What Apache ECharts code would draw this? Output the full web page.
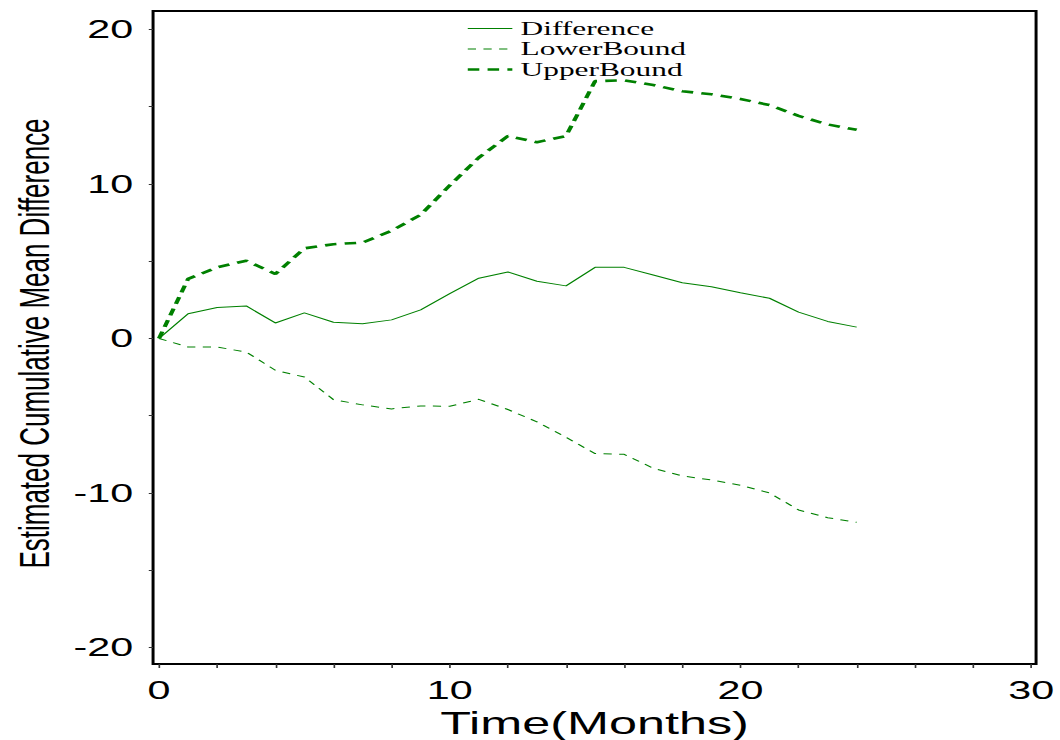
<!DOCTYPE html>
<html>
<head>
<meta charset="utf-8">
<script src="https://cdn.jsdelivr.net/npm/echarts@6/dist/echarts.min.js"></script>
<style>
html, body { margin: 0; padding: 0; background: #fff; overflow: hidden; }
/* the reference is drawn wide: the chart is laid out narrower and stretched */
#chart { width: 642px; height: 740px; transform: scaleX(1.6511); transform-origin: 0 0; }
</style>
</head>
<body>
<div id="chart"></div>
<script>
var months = [0, 1, 2, 3, 4, 5, 6, 7, 8, 9, 10, 11, 12, 13, 14, 15, 16, 17, 18, 19, 20, 21, 22, 23, 24];
var difference = [0, 1.6, 2.0, 2.1, 1.0, 1.65, 1.05, 0.95, 1.2, 1.85, 2.9, 3.9, 4.3, 3.7, 3.4, 4.6, 4.6, 4.1, 3.6, 3.35, 2.95, 2.6, 1.7, 1.1, 0.73];
var lowerBound = [0, -0.56, -0.56, -0.88, -2.06, -2.5, -3.96, -4.3, -4.56, -4.37, -4.39, -3.94, -4.6, -5.4, -6.4, -7.45, -7.5, -8.4, -8.9, -9.16, -9.5, -10.0, -11.1, -11.6, -11.9];
var upperBound = [0, 3.85, 4.6, 5.03, 4.17, 5.83, 6.1, 6.2, 6.97, 8.0, 9.9, 11.7, 13.1, 12.7, 13.1, 16.65, 16.7, 16.4, 16.0, 15.8, 15.5, 15.1, 14.4, 13.85, 13.5];
var xLabels = [0, 10, 20, 30];
var xTicks = [0, 2, 4, 6, 8, 10, 12, 14, 16, 18, 20, 22, 24, 26, 28, 30];
var yLabels = [-20, -10, 0, 10, 20];
var yTicks = [-20, -15, -10, -5, 0, 5, 10, 15, 20];

function pairs(vals) {
    var out = [];
    for (var i = 0; i < months.length; i++) out.push([months[i], vals[i]]);
    return out;
}

var green = "#008000";
var thinDash = [5, 4.5];
var thickDash = [7, 5];
var chart = echarts.init(document.getElementById("chart"), null, { renderer: "svg" });
chart.setOption({
    animation: false,
    backgroundColor: "#fff",
    grid: { left: 92.7, right: 14.5, top: 11, bottom: 76, outerBoundsMode: "none", containLabel: false,
            show: true, borderColor: "#000", borderWidth: 1.8, backgroundColor: "transparent" },
    legend: {
        orient: "vertical", left: 277, top: 14,
        itemWidth: 27, itemHeight: 10, itemGap: 1.5,
        itemStyle: { opacity: 0 },
        textStyle: { fontFamily: "Liberation Serif", fontSize: 19, color: "#000" },
        data: [
            { name: "Difference", lineStyle: { color: green, width: 1, type: "solid" } },
            { name: "LowerBound", lineStyle: { color: green, width: 1, type: thinDash } },
            { name: "UpperBound", lineStyle: { color: green, width: 2.6, type: thickDash } }
        ]
    },
    xAxis: {
        type: "value", min: -0.206, max: 30.17,
        name: "Time(Months)", nameLocation: "middle", nameGap: 36,
        nameTextStyle: { fontFamily: "Liberation Sans", fontSize: 30.5, color: "#000" },
        axisLine: { show: false, onZero: false },
        axisTick: { show: true, length: 4, customValues: xTicks, lineStyle: { color: "#333", width: 1 } },
        axisLabel: { customValues: xLabels, margin: 14, fontFamily: "Liberation Sans", fontSize: 25, color: "#000" },
        splitLine: { show: false }
    },
    yAxis: {
        type: "value", min: -21.07, max: 21.19,
        name: "Estimated Cumulative Mean Difference", nameLocation: "middle", nameGap: 56,
        nameTextStyle: { fontFamily: "Liberation Sans", fontSize: 26, color: "#000", padding: [0, 12, 0, 0] },
        axisLine: { show: false, onZero: false },
        axisTick: { show: true, length: 2.6, customValues: yTicks, lineStyle: { color: "#333", width: 1 } },
        axisLabel: { customValues: yLabels, margin: 12, fontFamily: "Liberation Sans", fontSize: 25, color: "#000" },
        splitLine: { show: false }
    },
    series: [
        { name: "Difference", type: "line", data: pairs(difference), symbol: "none", color: green,
          lineStyle: { color: green, width: 1, type: "solid" } },
        { name: "LowerBound", type: "line", data: pairs(lowerBound), symbol: "none", color: green,
          lineStyle: { color: green, width: 1, type: thinDash } },
        { name: "UpperBound", type: "line", data: pairs(upperBound), symbol: "none", color: green,
          lineStyle: { color: green, width: 2.6, type: thickDash } }
    ]
});
</script>
</body>
</html>
